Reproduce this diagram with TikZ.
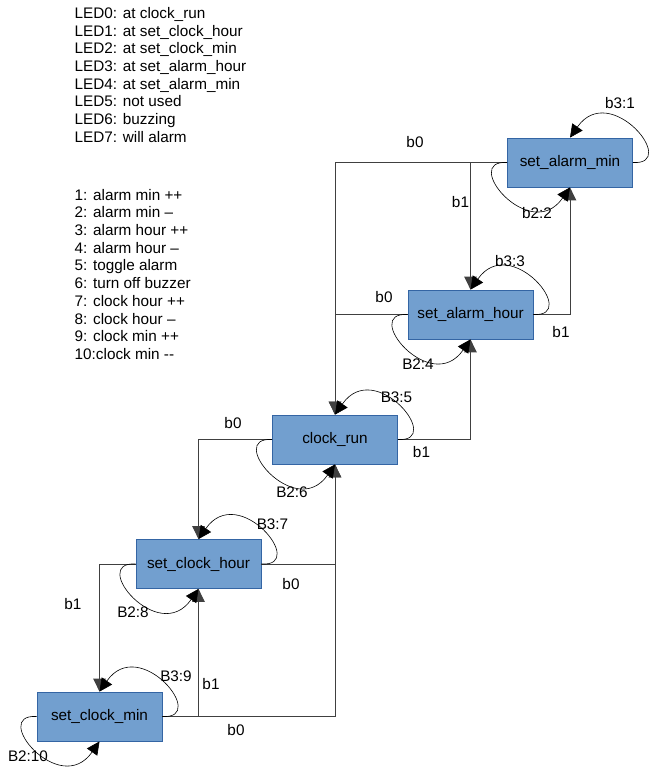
\documentclass[tikz,border=0pt]{standalone}
\usepackage{fontspec}
\setmainfont{Liberation Sans}
\usetikzlibrary{arrows.meta}
\definecolor{boxfill}{HTML}{729FCF}
\definecolor{boxline}{HTML}{3465A4}
\begin{document}
\begin{tikzpicture}[x=1pt,y=-1pt,
  stbox/.style={draw=boxline, fill=boxfill, line width=0.8pt, minimum width=125pt, minimum height=49pt, inner sep=0pt, font=\fontsize{15.3}{17.6}\selectfont},
  lbl/.style={font=\fontsize{15.3}{17.6}\selectfont, inner sep=0pt},
  txtblock/.style={font=\fontsize{15.3}{17.7}\selectfont, inner sep=0pt, anchor=north west},
  conn/.style={draw=black!75, line width=0.9pt, -{Triangle[length=13pt,width=12.5pt]}},
  selfloop/.style={draw=black, line width=0.6pt, -{Triangle[length=13pt,width=12.5pt]}},
]
\fill[white] (0,0) rectangle (649,771);
\useasboundingbox (0,0) rectangle (649,771);

% text blocks
\node[txtblock] (leds) at (74.5,5.9) {\begin{tabular}{@{}l@{}}LED0: at clock\_run\\LED1: at set\_clock\_hour\\LED2: at set\_clock\_min\\LED3: at set\_alarm\_hour\\LED4: at set\_alarm\_min\\LED5: not used\\LED6: buzzing\\LED7: will alarm\end{tabular}};
\node[txtblock] (acts) at (74.5,187.6) {\begin{tabular}{@{}l@{}}1: alarm min ++\\2: alarm min –\\3: alarm hour ++\\4: alarm hour –\\5: toggle alarm\\6: turn off buzzer\\7: clock hour ++\\8: clock hour –\\9: clock min ++\\10:clock min -{}-\end{tabular}};

% states
\node[stbox] (sam) at (570,162.5) {set\_alarm\_min};
\node[stbox] (sah) at (470.5,314.5) {set\_alarm\_hour};
\node[stbox] (cr) at (335,439.5) {clock\_run};
\node[stbox] (sch) at (198.5,564) {set\_clock\_hour};
\node[stbox] (scm) at (99.5,716.5) {set\_clock\_min};

% connectors between states
\draw[conn] (sam.west) -| (cr.north);
\draw[conn] (sam.west) -| (sah.north);
\draw[conn] (sah.east) -| (sam.south);
\draw[conn] (sah.west) -| (cr.north);
\draw[conn] (cr.east) -| (sah.south);
\draw[conn] (cr.west) -| (sch.north);
\draw[conn] (sch.east) -| (cr.south);
\draw[conn] (sch.west) -| (scm.north);
\draw[conn] (scm.east) -| (sch.south);
\draw[conn] (scm.east) -| (cr.south);

% self loops
\foreach \n in {sam,sah,cr,sch,scm}{
  \draw[selfloop] (\n.east) .. controls +(47,3) and +(40,-57.5) .. (\n.north);
  \draw[selfloop] (\n.west) .. controls +(-47,-3) and +(-40,57.5) .. (\n.south);
}

% labels
\node[lbl] (t1) at (415,142) {b0};
\node[lbl] (t2) at (460.5,202.5) {b1};
\node[lbl] (t3) at (620,103.5) {b3:1};
\node[lbl] (t4) at (537,213.5) {b2:2};
\node[lbl] (t5) at (510,261) {b3:3};
\node[lbl] (t6) at (384,297) {b0};
\node[lbl] (t7) at (561,332) {b1};
\node[lbl] (t8) at (418,364.5) {B2:4};
\node[lbl] (t9) at (396.5,397) {B3:5};
\node[lbl] (t10) at (233,423) {b0};
\node[lbl] (t11) at (421.5,452.5) {b1};
\node[lbl] (t12) at (292,492.5) {B2:6};
\node[lbl] (t13) at (272.5,524) {B3:7};
\node[lbl] (t14) at (291,584) {b0};
\node[lbl] (t15) at (73,604.5) {b1};
\node[lbl] (t16) at (133,612) {B2:8};
\node[lbl] (t17) at (176,676) {B3:9};
\node[lbl] (t18) at (211,684) {b1};
\node[lbl] (t19) at (236,730) {b0};
\node[lbl] (t20) at (28,756.5) {B2:10};
\end{tikzpicture}
\end{document}
